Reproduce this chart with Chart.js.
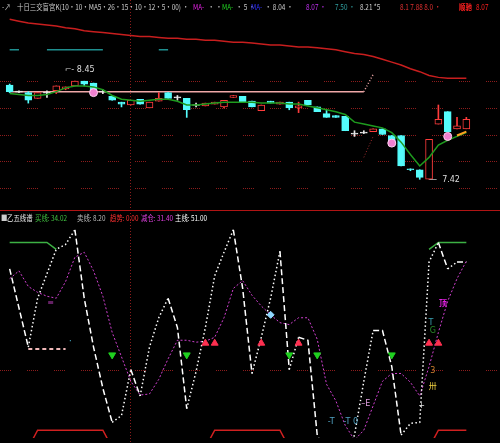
<!DOCTYPE html>
<html><head><meta charset="utf-8">
<script src="https://cdn.jsdelivr.net/npm/chart.js@4.4.0/dist/chart.umd.min.js"></script>
<style>
html,body{margin:0;padding:0;background:#000;width:500px;height:443px;overflow:hidden;position:relative;}
canvas{position:absolute;left:0;}
#top{top:0;}
#bot{top:210px;}
#sep{position:absolute;left:0;top:210px;width:500px;height:1px;background:#b01414;}
.h{position:absolute;white-space:nowrap;font-family:"Noto Sans CJK SC","DejaVu Sans";font-size:8px;line-height:10px;transform:scaleX(0.8);transform-origin:0 0;}
</style></head>
<body>
<canvas id="top" width="500" height="210"></canvas>
<canvas id="bot" width="500" height="233"></canvas>
<div id="sep"></div>
<div class="h" style="top:2px;left:2px;color:#ccc">-↗</div>
<div class="h" style="top:2px;left:17px;color:#ccc">十日三交盲宫K(10·10·MA5·26·15·10·12·5·00) ·</div>
<div class="h" style="top:2px;left:193px;color:#e020e0">MA-</div>
<div class="h" style="top:2px;left:208px;color:#ccc">· ·</div>
<div class="h" style="top:2px;left:222px;color:#20d020">MA-</div>
<div class="h" style="top:2px;left:236px;color:#ccc">· 5 ·</div>
<div class="h" style="top:2px;left:251px;color:#3030ff">MA-</div>
<div class="h" style="top:2px;left:265px;color:#ccc">· 8.04 ·</div>
<div class="h" style="top:2px;left:306px;color:#c030f0">8.07 ·</div>
<div class="h" style="top:2px;left:335px;color:#30a0a0">7.50 ·</div>
<div class="h" style="top:2px;left:360px;color:#ccc">8.21 *5</div>
<div class="h" style="top:2px;left:400px;color:#e03030">8.1 7.88 8.0 ·</div>
<div class="h" style="top:2px;left:459px;color:#ff2020;font-weight:bold">顺驰</div>
<div class="h" style="top:2px;left:476px;color:#ff2020">8.07</div>
<div class="h" style="top:213px;left:1px;color:#ccc">■</div>
<div class="h" style="top:213px;left:7px;color:#eee">乙五线谱</div>
<div class="h" style="top:213px;left:35px;color:#40c040">买线: 34.02</div>
<div class="h" style="top:213px;left:77px;color:#bbb">卖线: 8.20</div>
<div class="h" style="top:213px;left:110px;color:#ff3030">趋势: 0.00</div>
<div class="h" style="top:213px;left:141px;color:#e040e0">减仓: 31.40</div>
<div class="h" style="top:213px;left:175px;color:#fff">主线: 51.00</div>
<script>
// ---------- data ----------
const categories = ['1','2','3','4','5','6','7','8','9','10','11','12','13','14','15','16','17','18','19','20','21','22','23','24','25','26','27','28','29','30','31','32','33','34','35','36','37','38','39','40','41','42','43','44','45','46','47','48','49','50'];
const open  = [8.41,8.34,8.33,8.27,8.33,8.35,8.37,8.40,8.45,8.43, 8.34,8.29,8.23,8.20,8.26,8.17,8.24,8.33,8.28,8.27, 8.20,8.19,8.21,8.18,8.28,8.29,8.24,8.14,8.24,8.21, 8.23,8.17,8.25,8.18,8.11,8.09,8.08,7.90,7.91,7.92, 7.95,7.88,7.88,7.53,7.52,7.42,8.00,8.13,7.95,7.95];
const high  = [8.42,8.35,8.34,8.33,8.35,8.40,8.39,8.45,8.45,8.43, 8.36,8.29,8.23,8.25,8.26,8.23,8.33,8.33,8.30,8.27, 8.22,8.22,8.23,8.25,8.30,8.29,8.24,8.20,8.24,8.23, 8.23,8.23,8.25,8.18,8.15,8.09,8.08,7.93,7.93,7.95, 7.95,7.88,7.88,7.53,7.52,7.84,8.20,8.13,8.07,8.07];
const low   = [8.33,8.33,8.22,8.27,8.28,8.32,8.36,8.40,8.40,8.35, 8.32,8.25,8.18,8.20,8.21,8.17,8.24,8.27,8.25,8.07, 8.18,8.19,8.21,8.17,8.28,8.23,8.18,8.14,8.22,8.21, 8.15,8.12,8.20,8.13,8.07,8.07,7.93,7.87,7.90,7.92, 7.89,7.80,7.56,7.51,7.42,7.42,8.00,7.92,7.95,7.95];
const close = [8.34,8.34,8.25,8.33,8.33,8.40,8.39,8.45,8.42,8.35, 8.34,8.25,8.21,8.25,8.21,8.23,8.27,8.27,8.28,8.15, 8.20,8.22,8.23,8.25,8.30,8.23,8.18,8.20,8.22,8.23, 8.17,8.19,8.20,8.13,8.07,8.07,7.93,7.90,7.91,7.95, 7.89,7.80,7.56,7.52,7.44,7.84,8.05,7.92,7.98,8.05];
const maLine = [8.32,8.31,8.30,8.30,8.31,8.34,8.38,8.40,8.40,8.39, 8.36,8.30,8.26,8.25,8.24,8.25,8.26,8.26,8.24,8.20, 8.20,8.21,8.22,8.23,8.23,8.23,8.23,8.22,8.22,8.22, 8.21,8.21,8.19,8.17,8.15,8.13,8.10,8.02,8.00,7.98, 7.96,7.91,7.81,7.68,7.56,7.65,7.78,7.83,7.87,7.91];
const longLine = [9.10,9.08,9.06,9.05,9.04,9.03,9.01,9.00,8.98,8.97, 8.96,8.95,8.94,8.93,8.92,8.92,8.91,8.90,8.90,8.89, 8.89,8.88,8.88,8.87,8.86,8.86,8.85,8.84,8.83,8.83, 8.82,8.81,8.81,8.80,8.79,8.78,8.76,8.74,8.73,8.71, 8.68,8.65,8.62,8.58,8.55,8.51,8.49,8.48,8.48,8.48];
const pressLine = [8.34,8.34,8.34,8.34,8.34,8.34,8.34,8.34,8.34,8.34, 8.34,8.34,8.34,8.34,8.34,8.34,8.34,8.34,8.34,8.34, 8.34,8.34,8.34,8.34,8.34,8.34,8.34,8.34,8.34,8.34, 8.34,8.34,8.34,8.34,8.34,8.34,8.34,8.34,8.34,8.52, null,null,null,null,null,null,null,null,null,null];
const supportLine = [null,null,null,null,null,null,null,null,null,null, null,null,null,null,null,null,null,null,null,null, null,null,null,null,null,null,null,null,null,null, null,null,null,null,null,null,null,null,7.65,7.87, null,null,null,null,null,null,null,null,null,null];
const tealLine = [8.78,8.78,null,null,8.78,8.78,8.78,8.78,8.78,8.78, 8.78,null,null,null,null,null,8.78,8.78,null,null, null,null,null,null,null,null,null,null,null,null, null,null,null,null,null,null,null,null,null,null, null,null,null,null,null,null,null,null,null,null];
const orangeLine = [null,null,null,null,null,null,null,null,null,null, null,null,null,null,null,null,null,null,null,null, null,null,null,null,null,null,null,null,null,null, null,null,null,null,null,null,null,null,null,null, null,null,null,null,null,null,null,null,7.88,7.92];
const pinkMarks = [null,null,null,null,null,null,null,null,null,8.33, null,null,null,null,null,null,null,null,null,null, null,null,null,null,null,null,null,null,null,null, null,null,null,null,null,null,null,null,null,null, null,7.80,null,null,null,null,null,7.87,null,null];
const priceGrid = [8.45,8.17,7.89,7.61,7.33];

const mainLine = [51.5,31.5,11.5,36.5,49,61.5,64,71.5,36.5,11.5, -9.5,-27,-23.5,0,-13.5,11.5,26.5,36.5,21.5,-20, -1,21.5,48,60,71.5,41.5,-2,16.5,36.5,60.5, 0,16.5,15,-33.5,-43.5,-43.5,-43.5,-33.5,-6,20, 20,1.5,-33.5,-27.5,-27,55,65,51.5,55,55];
const cutLine = [46.5,50.5,42.5,39.5,37.5,36.5,45,57.5,60,50.5, 37.5,19,6.5,-6,-13,-12.5,-5,5.5,15,15, 14,14.5,16.5,26.5,41.5,45.5,38,32.5,28,24, 23,26.5,26.5,15.5,-7.5,-16,-28.5,-36,-31,-18.5, -6,-2,-2,-6.5,-13.5,1.5,19,35,46.5,55.5];
const buyLine = [65,65,65,65,65,61.5,null,null,null,null, null,null,null,null,null,null,null,null,null,null, null,null,null,null,null,null,null,null,null,null, null,null,null,null,null,null,null,null,null,null, null,null,null,null,null,61.5,65,65,65,65];
const sellDash = [null,null,10.5,10.5,10.5,10.5,10.5,null,null,null, null,null,null,null,null,null,null,null,null,null, null,null,null,null,null,null,null,null,null,null, null,null,null,null,null,null,null,null,null,null, null,null,null,null,null,null,null,null,null,null];
const bandLine = [-40,-40,-40,-31,-31,-31,-31,-31,-31,-31, -31,-40,-40,-40,-40,-40,-40,-40,-40,-40, -40,-40,-31,-31,-31,-31,-31,-31,-31,-31, -40,-40,-40,-40,-40,-40,-40,-40,-40,-40, -40,-40,-40,-40,-40,-40,-31,-31,-31,-31];
const upArrows = [null,null,null,null,null,null,null,null,null,null, null,null,null,null,null,null,null,null,null,null, null,13.5,13.5,null,null,null,null,13.5,null,null, null,13.5,null,null,null,null,null,null,null,null, null,null,null,null,null,13.5,13.5,null,null,null];
const downArrows = [null,null,null,null,null,null,null,null,null,null, null,7.5,null,null,null,null,null,null,null,7.5, null,null,null,null,null,null,null,null,null,null, 7.5,null,null,7.5,null,null,null,null,null,null, null,7.5,null,null,null,null,null,null,null,null];
const blueMarks = [null,null,null,null,null,null,null,null,null,null, null,null,null,null,null,null,null,null,null,null, null,null,null,null,null,null,null,null,28,null, null,null,null,null,null,null,null,null,null,null, null,null,null,null,null,null,null,null,null,null];
const indGrid = [0];

// ---------- colours ----------
const CYAN='#54fcfc', RED='#ff3c3c', WHITE='#e8e8e8';

const candleColor = i => close[i] > open[i] ? RED : (close[i] < open[i] ? CYAN : WHITE);
const bodies = open.map((o,i)=>{const lo=Math.min(o,close[i]),hi=Math.max(o,close[i]);return lo===hi?[lo-0.005,hi+0.005]:[lo,hi];});
const wicks = low.map((l,i)=>[l,high[i]]);
const colArr = open.map((o,i)=>candleColor(i));
const fillArr = open.map((o,i)=>close[i]>open[i]?'#000':candleColor(i));

const gridPlugin = {
  id:'gridPlugin',
  beforeDatasetsDraw(chart,args,opts){
    const {ctx,scales:{x,y}}=chart;
    ctx.save();
    ctx.strokeStyle='#8c1c1c'; ctx.lineWidth=1;
    ctx.setLineDash([1,1,1,1,1,1,1,1,1,1,1,16]);
    (opts.yVals||[]).forEach(v=>{const py=Math.round(y.getPixelForValue(v))+0.5;ctx.beginPath();ctx.moveTo(0,py);ctx.lineTo(chart.width,py);ctx.stroke();});
    ctx.setLineDash([1,2]);
    (opts.xIdx||[]).forEach(i=>{const px=Math.round(x.getPixelForValue(i))-0.5;ctx.beginPath();ctx.moveTo(px,0);ctx.lineTo(px,chart.height);ctx.stroke();});
    ctx.restore();
  }
};
const textPlugin = {
  id:'textPlugin',
  afterDatasetsDraw(chart,args,opts){
    const {ctx,scales:{x,y}}=chart;
    ctx.save(); ctx.textBaseline='middle';
    (opts.items||[]).forEach(m=>{
      ctx.font=m.f||'8px "DejaVu Sans"'; ctx.fillStyle=m.c; ctx.textAlign=m.a||'center';
      ctx.fillText(m.t,x.getPixelForValue(m.i),y.getPixelForValue(m.v));
    });
    ctx.restore();
  }
};

const lineDs = (data,color,extra) => Object.assign({type:'line',data,borderColor:color,backgroundColor:color,borderWidth:1,pointRadius:0,tension:0,spanGaps:false},extra||{});

new Chart(document.getElementById('top'),{
  type:'bar',
  data:{labels:categories,datasets:[
    lineDs(tealLine,'#1f8f8f',{order:9,borderWidth:1.5}),
    lineDs(longLine,'#c81e1e',{order:8,borderWidth:1.5}),
    lineDs(pressLine,'#f0a8a8',{order:7,borderWidth:1.5,segment:{borderDash:c=>c.p1DataIndex===39?[1,2]:undefined}}),
    lineDs(supportLine,'#a03030',{order:7,borderDash:[1,2]}),
    {type:'bar',data:wicks,backgroundColor:colArr,borderWidth:0,barThickness:1,grouped:false,order:6},
    {type:'bar',data:bodies,backgroundColor:fillArr,borderColor:colArr,borderWidth:1,borderSkipped:false,barThickness:7,grouped:false,order:5},
    lineDs(maLine,'#1e9a1e',{order:4,borderWidth:1.5}),
    lineDs(orangeLine,'#ffa020',{order:3,borderWidth:2}),
    lineDs(pinkMarks,'#f070c8',{order:2,showLine:false,pointRadius:4,pointBackgroundColor:'#f080d0',pointBorderColor:'#ffd0f0',pointBorderWidth:1})
  ]},
  options:{
    responsive:false,animation:false,events:[],
    layout:{padding:{left:2,right:29,top:0,bottom:0}},
    scales:{x:{type:'category',offset:true,display:false},y:{display:false,min:7.15,max:9.25}},
    plugins:{legend:{display:false},tooltip:{enabled:false},
      gridPlugin:{yVals:priceGrid,xIdx:[13]},
      textPlugin:{items:[
        {i:5.9,v:8.57,t:'⌐- 8.45',c:'#ddd',a:'left'},
        {i:45,v:7.41,t:'—  7.42',c:'#ddd',a:'left'}
      ]}}
  },
  plugins:[gridPlugin,textPlugin]
});

new Chart(document.getElementById('bot'),{
  type:'line',
  data:{labels:categories,datasets:[
    lineDs(bandLine,'#d02020',{order:9,borderWidth:1.5}),
    lineDs(sellDash,'#f0b8b8',{order:8,borderWidth:2,borderDash:[4,3]}),
    lineDs(cutLine,'#d040d0',{order:7,borderDash:[2,2]}),
    lineDs(buyLine,'#3cb043',{order:6,borderWidth:1.5}),
    lineDs(mainLine,'#ffffff',{order:5,borderWidth:1.5,segment:{borderDash:c=>c.p1.parsed.y>c.p0.parsed.y?[1.5,2.5]:[6,3]}}),
    lineDs(upArrows,'#ff3050',{order:2,showLine:false,pointRadius:4,pointStyle:'triangle'}),
    lineDs(downArrows,'#20d020',{order:2,showLine:false,pointRadius:4,pointStyle:'triangle',pointRotation:180}),
    lineDs(blueMarks,'#90d8ff',{order:2,showLine:false,pointRadius:3.5,pointStyle:'rectRot'})
  ]},
  options:{
    responsive:false,animation:false,events:[],
    layout:{padding:{left:2,right:29,top:10,bottom:0}},
    scales:{x:{type:'category',offset:true,display:false},y:{display:false,min:-35,max:76.5}},
    plugins:{legend:{display:false},tooltip:{enabled:false},
      gridPlugin:{yVals:indGrid,xIdx:[13]},
      textPlugin:{items:[
        {i:46.5,v:34,t:'顶',c:'#e020e0',f:'bold 8px "Noto Sans CJK SC"'},
        {i:45.2,v:24,t:'T',c:'#3aa0b0'},
        {i:45.4,v:20,t:'G',c:'#2a8a2a'},
        {i:45.4,v:-0.5,t:'3',c:'#d08030'},
        {i:45.4,v:-8.5,t:'卅',c:'#f0d040',f:'8px "Noto Sans CJK SC"'},
        {i:38.2,v:-17.5,t:'–E',c:'#e0a0e0'},
        {i:34.5,v:-27,t:'-T',c:'#50a0c0'},
        {i:36.6,v:-27,t:'-T 0',c:'#50a0c0'},
        {i:44.2,v:-18.5,t:'+',c:'#ddd'},
        {i:4.4,v:34,t:'≡',c:'#c040c0'},
        {i:6.5,v:14,t:'·',c:'#50c0e0'}
      ]}}
  },
  plugins:[gridPlugin,textPlugin]
});
</script>
</body></html>
